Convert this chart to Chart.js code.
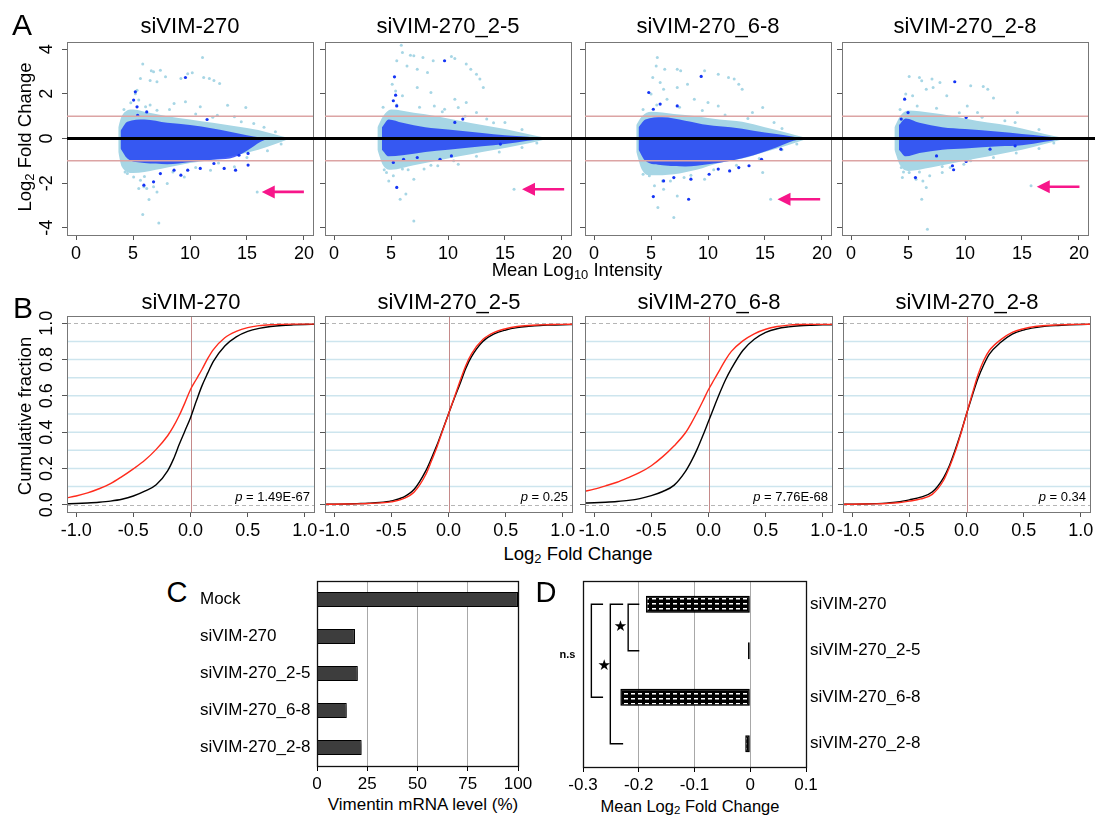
<!DOCTYPE html>
<html>
<head>
<meta charset="utf-8">
<script src="https://cdn.jsdelivr.net/npm/chart.js@4.4.1/dist/chart.umd.min.js"></script>
<style>
  body { margin: 0; background: #fff; }
  #fig { position: relative; width: 1095px; height: 820px; overflow: hidden; font-family: 'Liberation Sans', Arial, sans-serif; color: #000; }
  canvas { position: absolute; }
  .t { position: absolute; white-space: nowrap; line-height: 1; transform: translate(-50%, -50%); }
  .t.r { transform: translate(-50%, -50%) rotate(-90deg); }
  sub { font-size: 70%; vertical-align: -0.22em; line-height: 0; }
</style>
</head>
<body>
<div id="fig"></div>
<script>
// ---- A: MA plots (dense core kept as envelopes [x, low, high])
const maTitles = ['siVIM-270', 'siVIM-270_2-5', 'siVIM-270_6-8', 'siVIM-270_2-8'];
const maXTicks = [0, 5, 10, 15, 20];
const maYTicks = [-4, -2, 0, 2, 4];
const maRefLines = [-1, 1];

const a1Light = [[5.85,3.33],[11.1,3.63],[6.6,3.03],[6.8,2.99],[7.4,3.06],[5.65,2.69],[6.5,2.6],[7.1,2.54],[9.2,2.69],[9.8,2.9],[10.2,2.94],[11.2,2.73],[11.7,2.69],[12.1,2.6],[12.6,2.46],[7.85,2.76],[5.2,2.0],[5.35,2.16],[5.5,1.72],[6.1,1.42],[7.1,1.27],[8.6,1.57],[9.6,1.64],[10.9,1.42],[13.3,1.49],[14.9,1.39],[12.4,1.04],[13.9,0.97],[15.6,0.67],[4.5,-1.57],[5.05,-1.72],[5.65,-1.87],[5.95,-2.16],[6.2,-2.24],[6.8,-2.16],[7.1,-2.39],[6.4,-2.73],[5.85,-3.4],[7.26,-3.78],[5.5,-2.24],[8.0,-2.01],[9.5,-1.72],[11.8,-1.42],[13.9,-1.27],[15.9,-2.39],
  [4.2,1.3],[4.8,1.6],[6.5,1.5],[8.2,1.3],[10.5,1.1],[12.0,0.95],[14.5,0.75],[16.5,0.5],[17.5,0.3],[4.3,-1.5],[6.0,-1.7],[8.5,-1.5],[10.5,-1.3],[12.5,-1.1],[15.0,-0.85],[16.8,-0.55],[18.0,-0.25]];
const a1Dark = [[9.6,2.73],[5.2,2.09],[5.05,1.72],[5.35,1.42],[5.4,1.04],[6.2,1.19],[11.5,0.85],[5.95,-2.09],[6.8,-1.94],[7.4,-1.57],[8.6,-1.42],[9.2,-1.64],[9.8,-1.42],[10.9,-1.34],[12.1,-1.12],[13.0,-1.34],[14.0,-1.42],[15.1,-1.19],[14.3,-0.75],[15.1,-0.67]];
const a1LightEnv = [[3.7,-0.6,0.5],[4.0,-1.25,1.0],[5.0,-1.55,1.3],[6.0,-1.5,1.2],[8.0,-1.3,1.0],[10.0,-1.1,0.85],[12.0,-0.95,0.7],[14.0,-0.75,0.55],[16.0,-0.5,0.38],[17.5,-0.25,0.18],[18.6,-0.03,0.03]];
const a1DarkEnv = [[3.9,-0.45,0.35],[4.5,-0.9,0.75],[6.0,-1.1,0.85],[8.0,-1.15,0.7],[10.0,-1.05,0.6],[12.0,-0.95,0.45],[13.5,-0.9,0.3],[15.0,-0.55,0.15],[16.2,-0.15,0.05],[16.8,-0.02,0.01]];

const a2Light = [[5.9,4.18],[6.0,3.85],[6.7,3.73],[7.0,3.7],[7.8,3.63],[8.7,3.48],[10.3,3.67],[10.6,3.58],[5.5,3.48],[6.4,3.25],[7.3,3.1],[8.2,2.96],[11.6,3.33],[12.0,3.1],[12.5,2.88],[12.8,2.66],[5.1,2.43],[5.4,2.13],[6.0,1.91],[7.3,2.28],[8.5,2.06],[10.6,1.76],[11.6,1.61],[13.1,2.28],[8.8,1.46],[9.7,1.31],[10.9,1.39],[12.5,1.16],[13.4,0.87],[15.0,0.72],[4.6,-1.52],[4.8,-1.9],[5.2,-1.67],[5.8,-2.72],[6.3,-2.49],[7.0,-1.82],[6.0,-1.37],[7.0,-3.69],[7.9,-1.37],[9.1,-1.22],[10.9,-1.15],[15.8,-2.27],
  [4.3,1.4],[5.5,1.5],[7.5,1.4],[9.5,1.2],[11.5,1.0],[14.0,0.7],[16.5,0.4],[4.4,-1.4],[6.5,-1.4],[8.5,-1.2],[10.5,-1.0],[12.5,-0.8],[14.5,-0.6],[16.5,-0.4],[17.8,-0.2]];
const a2Dark = [[9.7,3.48],[5.3,2.76],[5.4,1.94],[5.2,1.69],[5.5,1.46],[11.3,0.87],[10.6,0.72],[5.5,-2.19],[5.2,-1.07],[6.1,-0.93],[7.3,-0.85],[9.3,-0.93],[10.3,-0.78],[14.6,-0.25]];
const a2LightEnv = [[3.8,-0.5,0.5],[4.3,-1.2,1.0],[5.0,-1.4,1.3],[7.0,-1.2,1.15],[9.0,-1.0,1.0],[11.0,-0.8,0.8],[13.0,-0.6,0.6],[15.0,-0.42,0.42],[17.0,-0.22,0.2],[18.6,-0.03,0.03]];
const a2DarkEnv = [[4.2,-0.5,0.5],[4.8,-0.8,0.85],[6.0,-0.75,0.7],[8.0,-0.6,0.5],[10.0,-0.5,0.4],[13.0,-0.35,0.25],[15.0,-0.25,0.15],[17.0,-0.1,0.08],[18.2,-0.02,0.02]];

const a3Light = [[5.55,3.63],[5.45,3.25],[6.2,3.1],[7.3,3.1],[7.6,3.03],[9.7,3.03],[10.9,2.88],[11.8,2.73],[12.3,2.66],[5.15,2.73],[5.8,2.51],[6.1,2.21],[7.3,2.28],[8.2,2.43],[8.8,1.76],[10.0,1.61],[12.7,2.43],[13.0,2.21],[5.0,1.99],[6.4,1.76],[10.9,1.46],[14.8,1.39],[13.9,1.16],[15.8,0.72],[4.85,-1.67],[5.3,-2.12],[5.6,-3.09],[6.1,-2.27],[7.0,-3.54],[7.3,-2.57],[6.7,-1.9],[7.9,-1.75],[9.7,-1.82],[14.8,-1.52],[15.5,-2.72],
  [4.3,1.3],[5.5,1.5],[7.5,1.4],[9.5,1.25],[11.5,1.05],[13.5,0.9],[16.5,0.45],[4.3,-1.6],[6.0,-1.9],[8.5,-1.65],[10.5,-1.4],[12.5,-1.2],[14.5,-0.9],[16.5,-0.5],[17.8,-0.25]];
const a3Dark = [[9.4,2.78],[4.8,2.06],[5.8,1.54],[5.2,1.31],[7.3,1.46],[5.2,-2.6],[8.3,-2.72],[6.1,-1.9],[7.0,-1.75],[8.5,-1.82],[10.1,-1.6],[10.9,-1.37],[11.9,-1.45],[12.7,-1.3],[13.6,-1.22],[14.7,-0.93],[16.4,-0.48]];
const a3LightEnv = [[3.7,-0.6,0.6],[4.2,-1.4,1.0],[5.0,-1.65,1.2],[7.0,-1.6,1.1],[9.0,-1.4,1.0],[11.0,-1.1,0.85],[13.0,-0.9,0.75],[15.0,-0.6,0.5],[17.0,-0.3,0.25],[18.6,-0.03,0.03]];
const a3DarkEnv = [[3.9,-0.5,0.5],[4.5,-1.0,0.85],[6.0,-1.2,0.95],[8.0,-1.25,0.8],[10.0,-1.15,0.6],[12.0,-1.0,0.5],[14.0,-0.75,0.35],[16.0,-0.4,0.2],[17.5,-0.1,0.08],[18.3,-0.02,0.02]];

const a4Light = [[5.1,2.78],[6.0,2.73],[6.2,2.58],[7.1,2.66],[7.8,2.51],[7.2,2.28],[6.6,2.21],[10.5,2.36],[11.6,2.33],[12.0,2.21],[12.5,1.81],[4.8,1.99],[5.4,1.91],[8.4,1.91],[10.2,1.46],[11.1,1.16],[14.6,1.16],[14.4,0.72],[4.4,-1.3],[4.5,-1.75],[5.1,-1.52],[5.7,-1.82],[6.3,-1.9],[6.6,-2.19],[6.9,-1.67],[6.2,-2.72],[6.7,-4.06],[8.0,-1.52],[8.7,-1.3],[9.9,-1.15],[15.8,-2.12],
  [4.3,1.3],[5.8,1.45],[7.5,1.35],[9.5,1.15],[11.5,0.95],[13.5,0.8],[16.5,0.4],[4.6,-1.5],[6.0,-1.5],[8.0,-1.25],[10.5,-1.0],[12.5,-0.85],[14.5,-0.65],[16.5,-0.45],[17.8,-0.2]];
const a4Dark = [[9.1,2.54],[4.7,1.76],[5.0,1.16],[4.4,0.87],[10.1,0.94],[5.65,-1.75],[9.0,-1.4],[8.9,-1.22],[10.1,-1.03],[7.5,-0.78],[12.2,-0.48],[14.4,-0.33]];
const a4LightEnv = [[3.8,-0.5,0.5],[4.3,-1.2,1.0],[5.0,-1.45,1.25],[7.0,-1.3,1.15],[9.0,-1.1,1.0],[11.0,-0.9,0.8],[13.0,-0.7,0.65],[15.0,-0.5,0.45],[17.0,-0.25,0.2],[18.6,-0.03,0.03]];
const a4DarkEnv = [[4.2,-0.5,0.6],[4.8,-0.8,0.9],[6.0,-0.65,0.7],[8.0,-0.5,0.5],[10.0,-0.45,0.42],[13.0,-0.35,0.3],[15.0,-0.3,0.2],[17.0,-0.15,0.1],[18.2,-0.03,0.03]];

// arrow per panel: [tip x, y, tail x]
const maArrows = [[16.3,-2.39,20.0],[16.5,-2.27,20.2],[16.1,-2.72,19.85],[16.3,-2.16,20.05]];

// ---- B: cumulative fraction curves
const cdfX = [-1.09,-1.0,-0.9,-0.8,-0.7,-0.6,-0.5,-0.4,-0.3,-0.2,-0.15,-0.1,-0.05,0,0.05,0.1,0.15,0.2,0.3,0.4,0.5,0.6,0.7,0.8,0.9,1.0,1.09];
const b1Black = [0.005,0.007,0.010,0.014,0.020,0.030,0.048,0.075,0.11,0.187,0.25,0.33,0.405,0.48,0.57,0.655,0.725,0.79,0.875,0.925,0.955,0.972,0.982,0.988,0.991,0.993,0.994];
const b1Red   = [0.037,0.048,0.065,0.088,0.116,0.155,0.198,0.245,0.305,0.38,0.43,0.49,0.56,0.635,0.69,0.745,0.805,0.855,0.92,0.955,0.976,0.987,0.992,0.994,0.995,0.995,0.995];
const b2Black = [0.002,0.003,0.004,0.006,0.008,0.012,0.021,0.04,0.085,0.185,0.255,0.33,0.415,0.5,0.585,0.665,0.75,0.815,0.9,0.942,0.963,0.976,0.983,0.988,0.99,0.992,0.993];
const b2Red   = [0.002,0.003,0.004,0.005,0.007,0.01,0.016,0.032,0.07,0.165,0.24,0.32,0.41,0.5,0.59,0.68,0.765,0.83,0.91,0.95,0.97,0.982,0.988,0.991,0.993,0.994,0.995];
const b3Black = [0.009,0.011,0.014,0.018,0.024,0.034,0.05,0.073,0.108,0.185,0.24,0.305,0.38,0.46,0.54,0.618,0.69,0.75,0.85,0.912,0.95,0.97,0.98,0.986,0.989,0.991,0.992];
const b3Red   = [0.073,0.086,0.104,0.124,0.15,0.178,0.215,0.265,0.325,0.398,0.45,0.508,0.57,0.635,0.69,0.745,0.8,0.845,0.903,0.942,0.967,0.982,0.99,0.993,0.994,0.994,0.994];
const b4Black = [0.002,0.003,0.004,0.006,0.009,0.015,0.027,0.042,0.07,0.15,0.215,0.3,0.395,0.5,0.6,0.695,0.77,0.83,0.895,0.94,0.963,0.976,0.984,0.988,0.991,0.993,0.994];
const b4Red   = [0.002,0.003,0.004,0.005,0.007,0.011,0.02,0.032,0.057,0.135,0.205,0.29,0.39,0.5,0.61,0.715,0.795,0.85,0.91,0.95,0.97,0.982,0.988,0.991,0.993,0.994,0.995];
const cdfPValues = ['1.49E-67', '0.25', '7.76E-68', '0.34'];
const cdfXTicks = [-1, -0.5, 0, 0.5, 1];
const cdfXLabels = ['-1.0', '-0.5', '0.0', '0.5', '1.0'];
const cdfYTicks = [0, 0.2, 0.4, 0.6, 0.8, 1];
const cdfYLabels = ['0.0', '0.2', '0.4', '0.6', '0.8', '1.0'];
const cdfGrid = [0.1, 0.2, 0.3, 0.4, 0.5, 0.6, 0.7, 0.8, 0.9];
const cdfDashed = [0, 1];

// ---- C: vimentin knockdown
const kdCategories = ['Mock', 'siVIM-270', 'siVIM-270_2-5', 'siVIM-270_6-8', 'siVIM-270_2-8'];
const kdValues = [100, 18.9, 20.3, 14.8, 22.2];
const kdTicks = [0, 25, 50, 75, 100];
const kdGrid = [25, 50, 75];

// ---- D: mean log2 fold change
const meanCategories = ['siVIM-270', 'siVIM-270_2-5', 'siVIM-270_6-8', 'siVIM-270_2-8'];
const meanValues = [-0.187, -0.004, -0.233, -0.009];
const meanTicks = [-0.3, -0.2, -0.1, 0, 0.1];
const meanTickLabels = ['-0.3', '-0.2', '-0.1', '0', '0.1'];
const meanGrid = [-0.2, -0.1, 0];
// brackets: [x of vertical, x of arm end, from category, to category]
const meanBrackets = [[-0.219,-0.199,0,1],[-0.251,-0.228,0,3],[-0.285,-0.264,0,2]];
const meanStars = [[-0.233,0.5],[-0.262,1.33]];
const meanNs = [-0.328, 1.09];

const maLight = [a1Light, a2Light, a3Light, a4Light];
const maDark = [a1Dark, a2Dark, a3Dark, a4Dark];
const maLightEnv = [a1LightEnv, a2LightEnv, a3LightEnv, a4LightEnv];
const maDarkEnv = [a1DarkEnv, a2DarkEnv, a3DarkEnv, a4DarkEnv];
const cdfBlack = [b1Black, b2Black, b3Black, b4Black];
const cdfRed = [b1Red, b2Red, b3Red, b4Red];

Chart.defaults.font.family = "'Liberation Sans', Arial, sans-serif";
Chart.defaults.color = '#000';
Chart.defaults.animation = false;
Chart.defaults.responsive = false;
Chart.defaults.events = [];
Chart.defaults.plugins.legend.display = false;
Chart.defaults.plugins.tooltip.enabled = false;

const fig = document.getElementById('fig');

function addCanvas(left, top, w, h) {
  const c = document.createElement('canvas');
  c.width = w; c.height = h;
  c.style.left = left + 'px'; c.style.top = top + 'px';
  c.style.width = w + 'px'; c.style.height = h + 'px';
  fig.appendChild(c);
  return c;
}

function label(html, x, y, size, cls) {
  const d = document.createElement('div');
  d.className = 't' + (cls ? ' ' + cls : '');
  d.style.left = x + 'px'; d.style.top = y + 'px'; d.style.fontSize = size + 'px';
  d.innerHTML = html;
  fig.appendChild(d);
}

const fixedTicks = values => s => { s.ticks = values.map(v => ({ value: v })); };
// fixed axis size, and no extra label padding pushed onto the plot area
const fixSize = (w, h) => s => {
  if (w !== null) s.width = w;
  if (h !== null) s.height = h;
  s.paddingTop = 0; s.paddingBottom = 0; s.paddingLeft = 0; s.paddingRight = 0;
};

function rAxisX(min, max, values, labels) {
  return {
    type: 'linear', min, max,
    afterBuildTicks: fixedTicks(values),
    afterFit: fixSize(null, 30),
    ticks: { autoSkip: false, maxRotation: 0, padding: 3, font: { size: 18 }, callback: (v, i) => labels[i] },
    grid: { drawOnChartArea: false, tickLength: 5, color: '#555' },
    border: { display: false }
  };
}

function rAxisY(min, max, values, labels, show, width, pad) {
  return {
    type: 'linear', min, max,
    afterBuildTicks: fixedTicks(values),
    afterFit: fixSize(width, null),
    ticks: { display: show, autoSkip: false, minRotation: 90, maxRotation: 90, crossAlign: 'center', padding: pad, font: { size: 18 }, callback: (v, i) => labels[i] },
    grid: { drawOnChartArea: false, tickLength: 5, color: '#555' },
    border: { display: false }
  };
}

function frame(chart, color, width) {
  const { ctx, chartArea: a } = chart;
  ctx.save();
  ctx.strokeStyle = color; ctx.lineWidth = width;
  ctx.strokeRect(a.left + 0.5, a.top + 0.5, a.right - a.left, a.bottom - a.top);
  ctx.restore();
}

function band(env, color, order) {
  const common = { type: 'line', borderColor: 'rgba(0,0,0,0)', borderWidth: 0, pointRadius: 0, cubicInterpolationMode: 'monotone', order };
  return [
    { ...common, data: env.map(e => ({ x: e[0], y: e[2] })), fill: '+1', backgroundColor: color },
    { ...common, data: env.map(e => ({ x: e[0], y: e[1] })), fill: false }
  ];
}

function pts(list, color, r, order) {
  return { type: 'scatter', data: list.map(([x, y]) => ({ x, y })), backgroundColor: color, pointRadius: r, pointBorderWidth: 0, order };
}

const maDeco = {
  id: 'maDeco',
  afterDatasetsDraw(chart, args, o) {
    const { ctx, chartArea: a, scales: { x, y } } = chart;
    frame(chart, '#777', 1);
    ctx.save();
    ctx.strokeStyle = '#dca4a4'; ctx.lineWidth = 1.5;
    maRefLines.forEach(v => {
      const py = y.getPixelForValue(v);
      ctx.beginPath(); ctx.moveTo(a.left, py); ctx.lineTo(a.right, py); ctx.stroke();
    });
    const z = y.getPixelForValue(0);
    ctx.strokeStyle = '#000'; ctx.lineWidth = 3;
    ctx.beginPath(); ctx.moveTo(o.first ? a.left : 0, z); ctx.lineTo(chart.width, z); ctx.stroke();
    // pink arrow pointing at vimentin
    const [tx, ty, ex] = o.arrow;
    const px = x.getPixelForValue(tx), py = y.getPixelForValue(ty), pe = x.getPixelForValue(ex);
    ctx.strokeStyle = '#f7168a'; ctx.fillStyle = '#f7168a'; ctx.lineWidth = 2.6;
    ctx.beginPath(); ctx.moveTo(pe, py); ctx.lineTo(px + 10, py); ctx.stroke();
    ctx.beginPath(); ctx.moveTo(px, py); ctx.lineTo(px + 13, py - 6.5); ctx.lineTo(px + 13, py + 6.5); ctx.closePath(); ctx.fill();
    ctx.restore();
  }
};

const maBoxLefts = [67, 325, 585, 842];
maTitles.forEach((title, i) => {
  const first = i === 0;
  const yW = first ? 67 : 12;
  const padR = i === 3 ? 8 : 12;
  const cv = addCanvas(maBoxLefts[i] - yW, 36, yW + 246 + padR, 229);
  new Chart(cv, {
    type: 'scatter',
    data: {
      datasets: [
        ...band(maLightEnv[i], '#a7d6e5', 6),
        ...band(maDarkEnv[i], 'rgba(22,52,246,0.78)', 4),
        pts(maLight[i], '#a7d6e5', 1.5, 5),
        pts(maDark[i], '#1434f5', 1.6, 3)
      ]
    },
    options: {
      devicePixelRatio: 1,
      layout: { padding: { top: 6, right: padR, left: 0, bottom: 0 } },
      scales: {
        x: rAxisX(-0.8, 20.8, maXTicks, maXTicks.map(String)),
        y: rAxisY(-4.32, 4.32, maYTicks, maYTicks.map(String), first, yW, 7)
      },
      plugins: { maDeco: { first, arrow: maArrows[i] } }
    },
    plugins: [maDeco]
  });
  label(title, maBoxLefts[i] + 123, 25.5, 22);
});

const cdfDeco = {
  id: 'cdfDeco',
  beforeDatasetsDraw(chart) {
    const { ctx, chartArea: a, scales: { x, y } } = chart;
    ctx.save();
    ctx.strokeStyle = '#cde5ee'; ctx.lineWidth = 1.5;
    cdfGrid.forEach(v => {
      const py = y.getPixelForValue(v);
      ctx.beginPath(); ctx.moveTo(a.left, py); ctx.lineTo(a.right, py); ctx.stroke();
    });
    ctx.strokeStyle = '#b5b5b5'; ctx.lineWidth = 1; ctx.setLineDash([4, 3]);
    cdfDashed.forEach(v => {
      const py = Math.round(y.getPixelForValue(v)) + 0.5;
      ctx.beginPath(); ctx.moveTo(a.left, py); ctx.lineTo(a.right, py); ctx.stroke();
    });
    ctx.setLineDash([]);
    ctx.strokeStyle = '#c58a8a';
    const px = Math.round(x.getPixelForValue(0)) + 0.5;
    ctx.beginPath(); ctx.moveTo(px, a.top); ctx.lineTo(px, a.bottom); ctx.stroke();
    ctx.restore();
  },
  afterDatasetsDraw(chart, args, o) {
    const { ctx, chartArea: a } = chart;
    frame(chart, '#777', 1);
    ctx.save();
    ctx.fillStyle = '#000'; ctx.textAlign = 'right'; ctx.textBaseline = 'alphabetic';
    ctx.font = "13px 'Liberation Sans', Arial";
    const rest = ' = ' + o.p;
    const xr = a.right - 4, yb = a.bottom - 11;
    ctx.fillText(rest, xr, yb);
    const w = ctx.measureText(rest).width;
    ctx.font = "italic 13px 'Liberation Sans', Arial";
    ctx.fillText('p', xr - w, yb);
    ctx.restore();
  }
};

function curve(values, color, order) {
  return { type: 'line', data: cdfX.map((xv, k) => ({ x: xv, y: values[k] })), borderColor: color, borderWidth: 1.4, pointRadius: 0, fill: false, cubicInterpolationMode: 'monotone', order };
}

const cdfBoxLefts = [67, 325, 585, 843];
maTitles.forEach((title, i) => {
  const first = i === 0;
  const yW = first ? 67 : 12;
  const padR = i === 3 ? 5 : 12;
  const cv = addCanvas(cdfBoxLefts[i] - yW, 310, yW + 247 + padR, 232);
  new Chart(cv, {
    type: 'scatter',
    data: { datasets: [curve(cdfBlack[i], '#000', 2), curve(cdfRed[i], '#ff2b1c', 1)] },
    options: {
      devicePixelRatio: 1,
      layout: { padding: { top: 6, right: padR, left: 0, bottom: 0 } },
      scales: {
        x: rAxisX(-1.08, 1.08, cdfXTicks, cdfXLabels),
        y: rAxisY(-0.04, 1.04, cdfYTicks, cdfYLabels, first, yW, 2)
      },
      plugins: { cdfDeco: { p: cdfPValues[i] } }
    },
    plugins: [cdfDeco]
  });
  label(title, cdfBoxLefts[i] + 124, 302, 22);
});

const barShadow = {
  id: 'barShadow',
  beforeDatasetDraw(chart) {
    const c = chart.ctx;
    c.save();
    c.shadowColor = 'rgba(0,0,0,0.45)'; c.shadowBlur = 4; c.shadowOffsetX = 2; c.shadowOffsetY = 2;
  },
  afterDatasetDraw(chart) { chart.ctx.restore(); }
};
const blackFrame = { id: 'blackFrame', afterDatasetsDraw(chart) { frame(chart, '#111', 1.3); } };

function barX(min, max, values, labels, grid) {
  return {
    type: 'linear', min, max,
    afterBuildTicks: fixedTicks(values),
    afterFit: fixSize(null, 28),
    ticks: { autoSkip: false, maxRotation: 0, padding: 3, font: { size: 17 }, callback: (v, i) => labels[i] },
    grid: { color: c => (c.tick && grid.includes(c.tick.value)) ? '#a8a8a8' : 'rgba(0,0,0,0)', tickColor: '#000', tickLength: 5, lineWidth: 1 },
    border: { display: false }
  };
}

// C
new Chart(addCanvas(200, 576, 338, 218), {
  type: 'bar',
  data: {
    labels: kdCategories,
    datasets: [{ data: kdValues, backgroundColor: '#3d3d3d', borderColor: '#000', borderWidth: 1.2, borderSkipped: false, barPercentage: 0.41, categoryPercentage: 1 }]
  },
  options: {
    devicePixelRatio: 1,
    indexAxis: 'y',
    layout: { padding: { top: 5, right: 20, left: 0, bottom: 0 } },
    scales: {
      x: barX(0, 100, kdTicks, kdTicks.map(String), kdGrid),
      y: {
        afterFit: fixSize(117, null),
        grid: { display: false, drawTicks: false },
        border: { display: false },
        ticks: { crossAlign: 'far', padding: 0, font: { size: 17 } }
      }
    }
  },
  plugins: [barShadow, blackFrame]
});

// D
function dashPattern() {
  const p = document.createElement('canvas');
  p.width = 7; p.height = 5;
  const g = p.getContext('2d');
  g.fillStyle = '#000'; g.fillRect(0, 0, 7, 5);
  g.fillStyle = '#fff'; g.fillRect(1, 2, 4, 1.5);
  return g.createPattern(p, 'repeat');
}

const meanDeco = {
  id: 'meanDeco',
  afterDraw(chart) {
    const { ctx, scales: { x, y } } = chart;
    ctx.save();
    ctx.strokeStyle = '#000'; ctx.lineWidth = 1.4;
    meanBrackets.forEach(([xv, xa, c0, c1]) => {
      const pv = x.getPixelForValue(xv), pa = x.getPixelForValue(xa);
      const y0 = y.getPixelForValue(c0), y1 = y.getPixelForValue(c1);
      ctx.beginPath(); ctx.moveTo(pa, y0); ctx.lineTo(pv, y0); ctx.lineTo(pv, y1); ctx.lineTo(pa, y1); ctx.stroke();
    });
    ctx.fillStyle = '#000'; ctx.textAlign = 'center'; ctx.textBaseline = 'middle';
    ctx.font = "15px 'DejaVu Sans'";
    meanStars.forEach(([sx, sc]) => ctx.fillText('\u2605', x.getPixelForValue(sx), y.getPixelForValue(sc)));
    ctx.font = "bold 11px 'Liberation Sans', Arial";
    ctx.fillText('n.s', x.getPixelForValue(meanNs[0]), y.getPixelForValue(meanNs[1]));
    ctx.restore();
  }
};

new Chart(addCanvas(553, 576, 413, 219), {
  type: 'bar',
  data: {
    labels: meanCategories,
    datasets: [{ data: meanValues, backgroundColor: dashPattern(), borderColor: '#000', borderWidth: 1.5, borderSkipped: false, barPercentage: 0.37, categoryPercentage: 1 }]
  },
  options: {
    devicePixelRatio: 1,
    indexAxis: 'y',
    layout: { padding: { top: 5, right: 0, left: 30, bottom: 0 } },
    scales: {
      x: barX(-0.3, 0.1, meanTicks, meanTickLabels, meanGrid),
      y: {
        position: 'right',
        afterFit: fixSize(160, null),
        grid: { display: false, drawTicks: false },
        border: { display: false },
        ticks: { crossAlign: 'near', padding: 4, font: { size: 17 } }
      }
    }
  },
  plugins: [barShadow, blackFrame, meanDeco]
});

// shared texts
label('A', 22, 24.5, 30);
label('Log<sub>2</sub> Fold Change', 25, 137, 18.5, 'r');
label('Mean Log<sub>10</sub> Intensity', 577, 270, 18.5);
label('B', 23, 308, 30);
label('Cumulative fraction', 25, 416, 18.5, 'r');
label('Log<sub>2</sub> Fold Change', 578, 554, 18.5);
label('C', 177, 592, 29);
label('D', 546, 592, 29);
label('Vimentin mRNA level (%)', 423, 804, 17);
label('Mean Log<sub>2</sub> Fold Change', 690, 806, 16.5);
</script>
</body>
</html>
